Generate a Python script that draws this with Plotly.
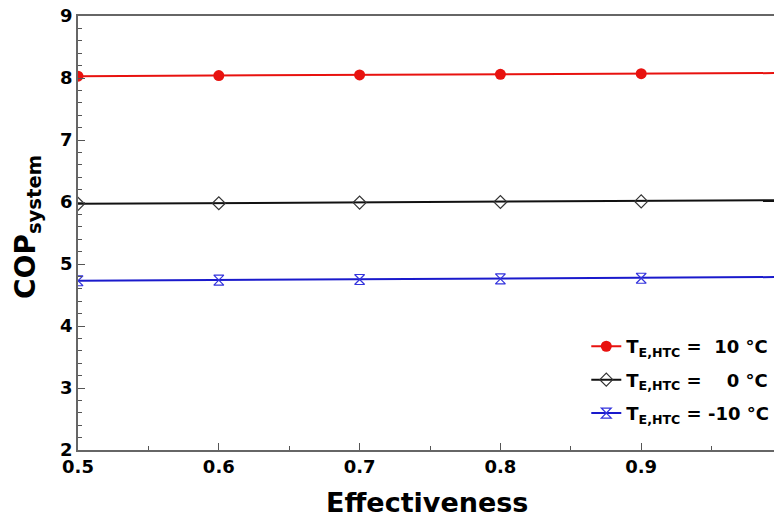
import plotly.graph_objects as go

effectiveness = [0.5, 0.6, 0.7, 0.8, 0.9, 1.0]
cop_10 = [8.03, 8.04, 8.05, 8.06, 8.07, 8.08]
cop_0 = [5.97, 5.98, 5.99, 6.00, 6.01, 6.03]
cop_m10 = [4.73, 4.74, 4.75, 4.76, 4.77, 4.79]

names = ["<b>T<sub>E,HTC</sub> =\u00a0\u00a010 °C</b>",
         "<b>T<sub>E,HTC</sub> =\u00a0\u00a0\u00a0\u00a00 °C</b>",
         "<b>T<sub>E,HTC</sub> = -10 °C</b>"]

FONT = "DejaVu Sans"

fig = go.Figure()
fig.add_trace(go.Scatter(x=effectiveness, y=cop_10, mode="lines+markers", name=names[0],
                         legendgroup="a",
                         line=dict(color="#e8120f", width=2),
                         marker=dict(symbol="circle", size=11, color="#e8120f")))
fig.add_trace(go.Scatter(x=effectiveness, y=cop_0, mode="lines+markers", name=names[1],
                         legendgroup="b",
                         line=dict(color="#111111", width=2),
                         marker=dict(symbol="diamond-open", size=10, color="#333333",
                                     line=dict(width=1.2))))
fig.add_trace(go.Scatter(x=effectiveness, y=cop_m10, mode="lines+markers", name=names[2],
                         legendgroup="c",
                         line=dict(color="#1a1acc", width=2),
                         marker=dict(symbol="hourglass-open", size=10, color="#3333dd",
                                     line=dict(width=1.2))))

axis_font = dict(family=FONT, size=18, color="black")
# browser body has an 8px margin: compensate in the figure margins
fig.update_layout(
    width=782, height=516,
    margin=dict(l=70, r=8, t=8, b=74),
    paper_bgcolor="white", plot_bgcolor="white",
    font=dict(family=FONT, color="black"),
    showlegend=True,
    legend=dict(x=0.722, xanchor="left", y=0.281, yanchor="top",
                bgcolor="rgba(0,0,0,0)", font=dict(size=18, family=FONT, color="black"),
                itemwidth=30, tracegroupgap=7),
    xaxis=dict(range=[0.5, 1.0], tickvals=[0.5, 0.6, 0.7, 0.8, 0.9],
               ticktext=["<b>0.5</b>", "<b>0.6</b>", "<b>0.7</b>", "<b>0.8</b>", "<b>0.9</b>"],
               ticks="inside", ticklen=7, tickcolor="#555", tickwidth=1,
               minor=dict(dtick=0.05, ticks="inside", ticklen=4, tickcolor="#555"),
               showline=True, linecolor="#666", linewidth=1.5, mirror=True,
               showgrid=False, zeroline=False, tickfont=axis_font, automargin=False,
               ticklabeloverflow="allow"),
    yaxis=dict(range=[2, 9], tickvals=[2, 3, 4, 5, 6, 7, 8, 9],
               ticktext=["<b>%d</b>" % v for v in [2, 3, 4, 5, 6, 7, 8, 9]],
               ticks="inside", ticklen=7, tickcolor="#555", tickwidth=1,
               minor=dict(dtick=0.2, ticks="inside", ticklen=4, tickcolor="#555"),
               showline=True, linecolor="#666", linewidth=1.5,
               showgrid=False, zeroline=False, tickfont=axis_font, automargin=False,
               ticklabeloverflow="allow"),
    annotations=[
        dict(text="<b>Effectiveness</b>", xref="paper", yref="paper", x=0.496, y=-0.12,
             xanchor="center", yanchor="middle", showarrow=False,
             font=dict(size=27, family=FONT, color="black")),
        dict(text="<b>COP<sub>system</sub></b>", xref="paper", yref="paper", x=-0.071, y=0.514,
             xanchor="center", yanchor="middle", showarrow=False, textangle=-90,
             font=dict(size=28, family=FONT, color="black")),
    ],
)

fig.write_html("out.html")
